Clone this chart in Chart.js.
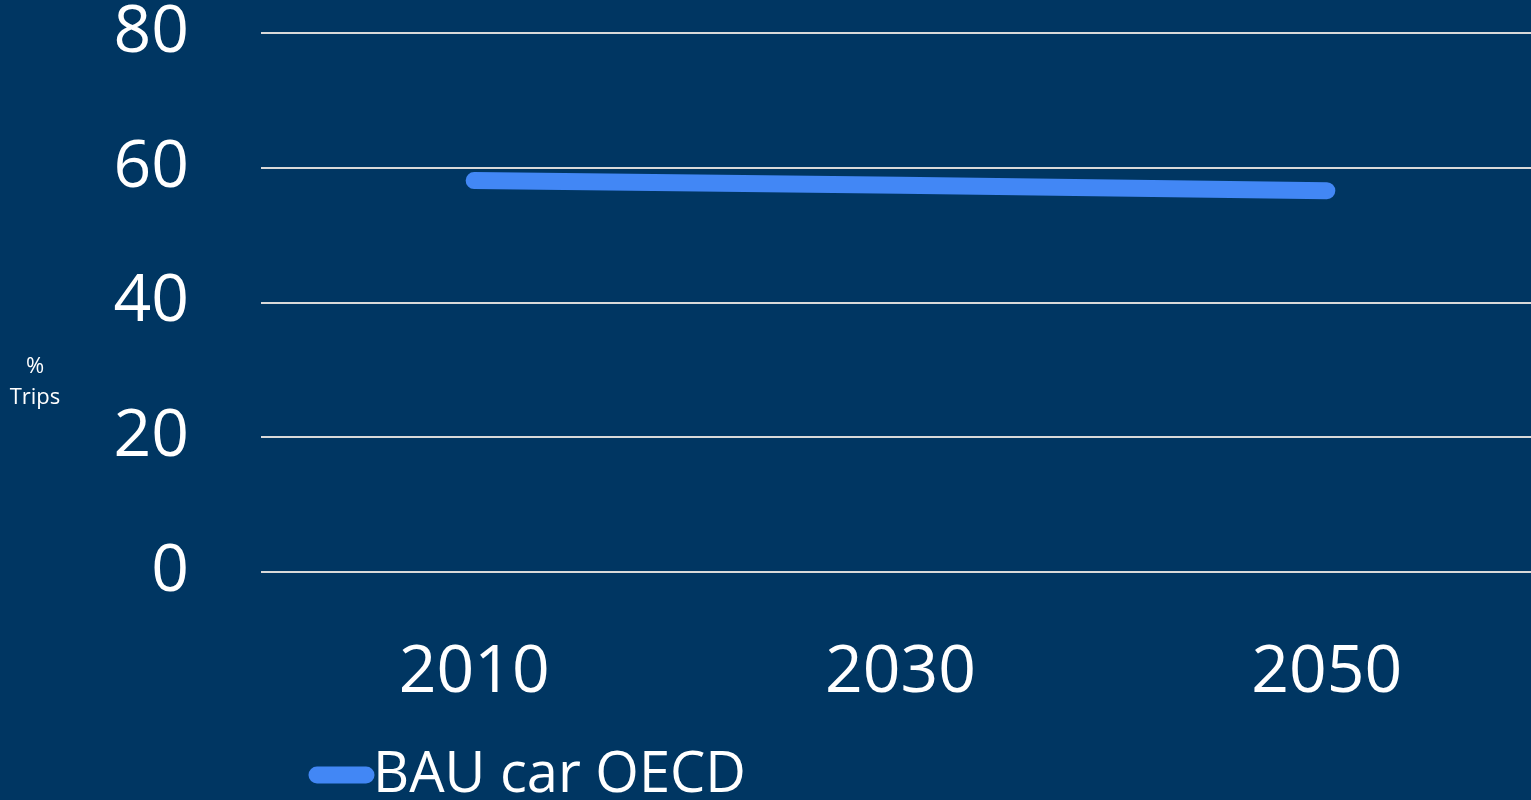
<!DOCTYPE html>
<html>
<head>
<meta charset="utf-8">
<script src="https://cdn.jsdelivr.net/npm/chart.js@4"></script>
<style>
  html, body { margin: 0; padding: 0; background: #003662; overflow: hidden; }
  #wrap { width: 1531px; height: 800px; overflow: hidden; }
  canvas { display: block; }
</style>
</head>
<body>
<div id="wrap"><canvas id="c" width="1540" height="800"></canvas></div>
<script>
// Share of trips by car, business-as-usual, OECD
const years = ['2010', '2030', '2050'];
const bauCarOECD = [58.1, 57.4, 56.6];
const yTicks = [0, 20, 40, 60, 80];
const seriesLabel = 'BAU car OECD';
const yTitleLines = ['%', 'Trips'];

const FONT = "'Open Sans', 'DejaVu Sans', sans-serif";
const LINE_BLUE = '#4287f5';

// Legend and vertical axis title drawn on the canvas
const extras = {
  id: 'extras',
  afterDraw(chart) {
    const ctx = chart.ctx;
    ctx.save();
    // y axis title, two stacked horizontal lines
    ctx.fillStyle = '#ffffff';
    ctx.font = '22px ' + FONT;
    ctx.textAlign = 'center';
    ctx.textBaseline = 'middle';
    yTitleLines.forEach((t, i) => ctx.fillText(t, 35, 367 + i * 31));
    // legend
    const ds = chart.data.datasets[0];
    ctx.strokeStyle = ds.borderColor;
    ctx.lineWidth = ds.borderWidth;
    ctx.lineCap = 'round';
    ctx.beginPath();
    ctx.moveTo(317, 775);
    ctx.lineTo(366, 775);
    ctx.stroke();
    ctx.fillStyle = '#ffffff';
    ctx.font = '56px ' + FONT;
    ctx.textAlign = 'left';
    ctx.textBaseline = 'middle';
    ctx.fillText(ds.label, 373, 776);
    ctx.restore();
  }
};

new Chart(document.getElementById('c'), {
  type: 'line',
  data: {
    labels: years,
    datasets: [{
      label: seriesLabel,
      data: bauCarOECD,
      borderColor: LINE_BLUE,
      backgroundColor: LINE_BLUE,
      borderWidth: 17,
      borderCapStyle: 'round',
      borderJoinStyle: 'round',
      pointRadius: 0,
      tension: 0
    }]
  },
  options: {
    responsive: false,
    maintainAspectRatio: false,
    animation: false,
    layout: { padding: { top: 33, bottom: 0, left: 0, right: 0 } },
    plugins: {
      legend: { display: false },
      tooltip: { enabled: false }
    },
    scales: {
      x: {
        type: 'category',
        offset: true,
        afterFit(scale) { scale.height = 228; },
        grid: { display: false, drawTicks: false },
        border: { display: false },
        ticks: {
          color: '#ffffff',
          font: { family: FONT, size: 66, lineHeight: 1 },
          padding: 68,
          maxRotation: 0
        }
      },
      y: {
        min: 0,
        max: 80,
        afterBuildTicks(scale) { scale.ticks = yTicks.map(v => ({ value: v })); },
        afterFit(scale) { scale.width = 261; },
        grid: {
          color: '#d9d9d9',
          lineWidth: 2,
          drawTicks: true,
          tickLength: 72,
          tickColor: 'rgba(0,0,0,0)'
        },
        border: { display: false },
        ticks: {
          color: '#ffffff',
          font: { family: FONT, size: 66, lineHeight: 1 },
          padding: 0
        }
      }
    }
  },
  plugins: [extras]
});
</script>
</body>
</html>
